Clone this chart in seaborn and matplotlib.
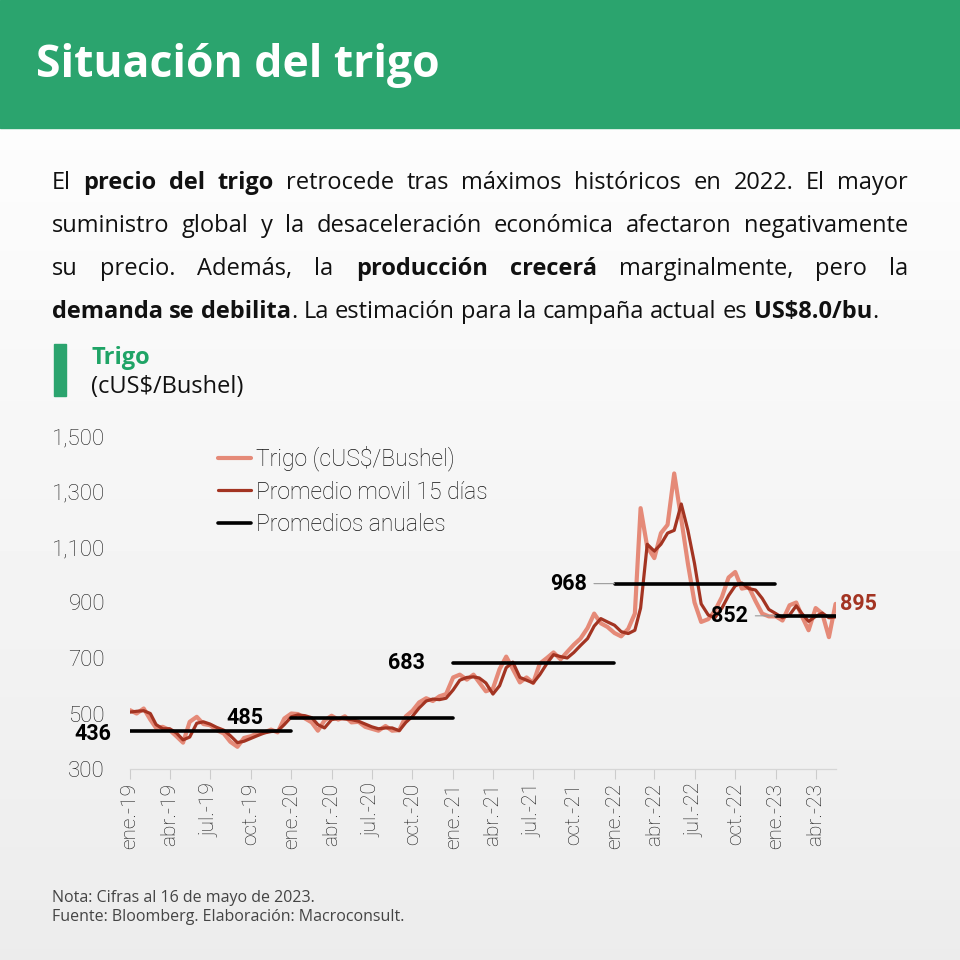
import matplotlib
matplotlib.use('Agg')
import matplotlib.pyplot as plt
from matplotlib.patches import Rectangle
import numpy as np
import pandas as pd
import seaborn as sns

W, H = 960, 960
GREEN = '#2BA46E'
RAW_COLOR = '#E58A78'
MA_COLOR = '#A33422'
TEXT_FONT = ['Open Sans', 'DejaVu Sans']
CHART_FONT = ['Roboto', 'DejaVu Sans']

# half-month sampling, 1st and 16th of each month (ene.-19 .. may.-23)
months = pd.date_range('2019-01-01', '2023-05-01', freq='MS')
dates = [d + pd.Timedelta(days=off) for d in months for off in (0, 15)]

trigo = [
    512, 500, 518, 478, 448, 452, 440, 418, 395, 470, 488, 462, 458, 440, 428, 398, 380, 412, 418, 428, 432, 442, 432, 482,
    500, 498, 482, 468, 438, 475, 492, 478, 490, 468, 470, 452, 445, 438, 455, 438, 440, 490, 510, 540, 555, 545, 562, 570,
    630, 640, 622, 640, 612, 580, 590, 660, 705, 660, 612, 630, 610, 680, 700, 720, 695, 722, 748, 770, 808, 860, 825, 812,
    790, 778, 805, 860, 1240, 1100, 1060, 1150, 1180, 1365, 1200, 1040, 900, 830, 840, 870, 920, 990, 1010, 950, 955, 905, 860, 850,
    850, 835, 890, 900, 850, 800, 880, 860, 775, 895,
]
promedio_movil = [
    505, 508, 510, 500, 460, 445, 445, 430, 405, 415, 465, 470, 462, 450, 440, 420, 395, 400, 410, 420, 430, 435, 437, 460,
    488, 495, 492, 485, 460, 448, 478, 482, 480, 478, 472, 462, 452, 445, 448, 448, 438, 468, 490, 520, 545, 552, 550, 555,
    585, 620, 630, 632, 628, 610, 570, 600, 665, 685, 630, 620, 610, 640, 680, 712, 705, 700, 720, 745, 770, 815, 842, 830,
    818, 795, 788, 800, 880, 1110, 1085, 1110, 1150, 1160, 1255, 1160, 1040, 895, 855, 845, 880, 925, 960, 970, 950, 945, 915, 875,
    860, 845, 855, 888, 860, 832, 850, 862, 845, 848,
]

avg_start = ['2019-01-01', '2020-01-01', '2021-01-01', '2022-01-01', '2023-01-01']
avg_end = ['2019-12-31', '2020-12-31', '2021-12-31', '2022-12-31', '2023-05-16']
avg_value = [436, 485, 683, 968, 852]
avg_leader = [False, False, False, True, True]

tick_dates = pd.date_range('2019-01-01', '2023-04-01', freq='QS')
tick_labels = ['ene.-19', 'abr.-19', 'jul.-19', 'oct.-19',
               'ene.-20', 'abr.-20', 'jul.-20', 'oct.-20',
               'ene.-21', 'abr.-21', 'jul.-21', 'oct.-21',
               'ene.-22', 'abr.-22', 'jul.-22', 'oct.-22',
               'ene.-23', 'abr.-23']
y_ticks = [300, 500, 700, 900, 1100, 1300, 1500]

paragraph = [
    'El **precio del trigo** retrocede tras máximos históricos en 2022. El mayor',
    'suministro global y la desaceleración económica afectaron negativamente',
    'su precio. Además, la **producción crecerá** marginalmente, pero la',
    '**demanda se debilita**. La estimación para la campaña actual es **US\\$8.0/bu**.',
]


def fx(px):
    return px / W


def fy(py):
    return 1 - py / H


def parse_words(line):
    words = [[]]
    for i, seg in enumerate(line.split('**')):
        bold = i % 2 == 1
        for j, part in enumerate(seg.split(' ')):
            if j > 0:
                words.append([])
            if part:
                words[-1].append((part, bold))
    return [w for w in words if w]


def draw_justified(fig, lines, x0, x1, baselines, size):
    renderer = fig.canvas.get_renderer()
    probe = fig.text(0, 0, 'a a', fontsize=size, family=TEXT_FONT)
    probe2 = fig.text(0, 0, 'aa', fontsize=size, family=TEXT_FONT)
    space = probe.get_window_extent(renderer).width - probe2.get_window_extent(renderer).width
    probe.remove()
    probe2.remove()
    for li, (line, yb) in enumerate(zip(lines, baselines)):
        words = parse_words(line)
        items, widths = [], []
        for w in words:
            objs, total = [], 0
            for piece, bold in w:
                t = fig.text(0, fy(yb), piece, fontsize=size, family=TEXT_FONT,
                             fontweight='bold' if bold else 'normal',
                             color='#111111', va='baseline', ha='left')
                tw = t.get_window_extent(renderer).width
                objs.append((t, tw))
                total += tw
            items.append(objs)
            widths.append(total)
        if li == len(lines) - 1:
            gap = space
        else:
            gap = (x1 - x0 - sum(widths)) / (len(words) - 1)
        x = x0
        for objs, w in zip(items, widths):
            xx = x
            for t, tw in objs:
                t.set_x(fx(xx))
                xx += tw
            x += w + gap


sns.set_style('white')
plt.rcParams['font.family'] = CHART_FONT

fig = plt.figure(figsize=(W / 100, H / 100), dpi=100)

# background gradient
bg = fig.add_axes([0, 0, 1, 1], zorder=-10)
grad = np.linspace(1.0, 0.925, 256).reshape(-1, 1)
bg.imshow(grad, aspect='auto', cmap='gray', vmin=0, vmax=1, extent=[0, 1, 0, 1])
bg.set_axis_off()

# header band
fig.patches.append(Rectangle((0, fy(128)), 1, 128 / H, transform=fig.transFigure,
                             color=GREEN, zorder=0))
fig.text(fx(36), fy(65), 'Situación del trigo', color='white', fontsize=32,
         fontweight='bold', family=TEXT_FONT, va='center', ha='left')

fig.canvas.draw()
draw_justified(fig, paragraph, 52, 908, [189, 232, 275, 318], 17)

# chart caption
fig.patches.append(Rectangle((fx(54), fy(396)), 12 / W, 52 / H, transform=fig.transFigure,
                             color=GREEN, zorder=1))
fig.text(fx(91), fy(358), 'Trigo', color='#1FA466', fontsize=17, fontweight='bold',
         family=TEXT_FONT, va='center')
fig.text(fx(91), fy(387), '(cUS\\$/Bushel)', color='#111111', fontsize=17,
         family=TEXT_FONT, va='center')

# main chart
ax = fig.add_axes([fx(130), fy(769), 706 / W, (769 - 436) / H])
ax.set_facecolor('none')
df = pd.DataFrame({'fecha': dates, 'trigo': trigo, 'promedio': promedio_movil})
sns.lineplot(data=df, x='fecha', y='trigo', ax=ax, color=RAW_COLOR, lw=3,
             label='Trigo (cUS\\$/Bushel)', zorder=2)
sns.lineplot(data=df, x='fecha', y='promedio', ax=ax, color=MA_COLOR, lw=2.3,
             label='Promedio movil 15 días', zorder=3)

for i, (s, e, v, lead) in enumerate(zip(avg_start, avg_end, avg_value, avg_leader)):
    seg = pd.DataFrame({'fecha': pd.to_datetime([s, e]), 'valor': [v, v]})
    sns.lineplot(data=seg, x='fecha', y='valor', ax=ax, color='black', lw=2.6,
                 label='Promedios anuales' if i == 0 else None, zorder=4)
    start = pd.to_datetime(s)
    off = -19 if i == 0 else -28
    dy = -2 if i == 0 else 0
    if lead:
        ax.annotate(str(v), xy=(start, v), xytext=(off * 0.72, dy), textcoords='offset points',
                    ha='right', va='center', fontsize=15.5, fontweight='bold', color='black',
                    arrowprops=dict(arrowstyle='-', color='#9a9a9a', lw=0.8,
                                    shrinkA=3, shrinkB=0), zorder=5)
    else:
        ax.annotate(str(v), xy=(start, v), xytext=(off * 0.72, dy), textcoords='offset points',
                    ha='right', va='center', fontsize=15.5, fontweight='bold', color='black',
                    annotation_clip=False, zorder=5)

ax.annotate(str(trigo[-1]), xy=(dates[-1], trigo[-1]), xytext=(3, 0),
            textcoords='offset points', ha='left', va='center', fontsize=15.5,
            fontweight='bold', color=MA_COLOR, annotation_clip=False)

ax.set_xlim(pd.Timestamp('2019-01-01'), pd.Timestamp('2023-05-17'))
ax.set_ylim(300, 1500)
ax.set_yticks(y_ticks)
ax.set_yticklabels([f'{v:,}' for v in y_ticks], fontweight='light')
ax.set_xticks(tick_dates)
ax.set_xticklabels(tick_labels, rotation=90, fontweight='light')
ax.tick_params(axis='y', length=0, pad=18, labelsize=16, labelcolor='#1a1a1a')
ax.tick_params(axis='x', length=7, width=0.8, color='#cccccc', pad=3,
               labelsize=15, labelcolor='#1a1a1a', direction='out', bottom=True)
ax.set_xlabel('')
ax.set_ylabel('')
for side in ['top', 'right', 'left']:
    ax.spines[side].set_visible(False)
ax.spines['bottom'].set_color('#d6d6d6')
ax.spines['bottom'].set_linewidth(0.9)
ax.grid(False)

leg = ax.legend(loc='upper left', bbox_to_anchor=(0.108, 1.005), frameon=False,
                handlelength=1.45, handletextpad=0.2, labelspacing=0.4,
                borderpad=0, prop={'weight': 'light', 'size': 16.5})
for t in leg.get_texts():
    t.set_color('#111111')

# footnotes
fig.text(fx(52), fy(898), 'Nota: Cifras al 16 de mayo de 2023.', fontsize=11.5,
         color='#444444', family=TEXT_FONT, va='center')
fig.text(fx(52), fy(917), 'Fuente: Bloomberg. Elaboración: Macroconsult.', fontsize=11.5,
         color='#444444', family=TEXT_FONT, va='center')

fig.savefig('out.png', dpi=100)
